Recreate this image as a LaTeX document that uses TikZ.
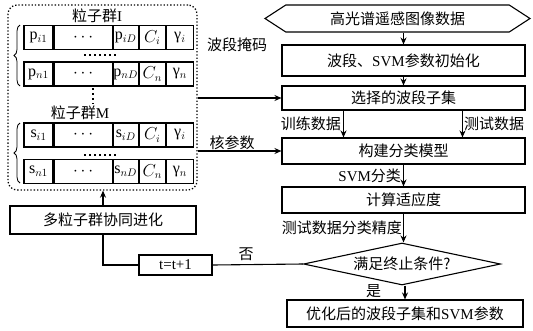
\documentclass[tikz,border=0pt]{standalone}
\usepackage{fontspec}
\usepackage{tikz}
\usetikzlibrary{shapes.geometric, shapes.symbols, arrows.meta, positioning, decorations.pathreplacing}
\setmainfont{Liberation Serif}
\newfontfamily\cjk{Noto Sans CJK SC}
\newcommand{\zh}[1]{{\cjk #1}}
\tikzset{
    process/.style  ={rectangle, minimum width=243pt, minimum height=26pt, inner sep=0pt, text centered, draw=black, line width=1.1pt},
    datasig/.style  ={signal, signal to=west and east, signal pointer angle=66, minimum width=265pt, minimum height=27pt, inner sep=0pt, draw=black, line width=1.1pt},
    decision/.style ={diamond, aspect=4.7, minimum width=197pt, minimum height=42pt, inner sep=0pt, text centered, draw=black, line width=1.1pt},
    cell/.style     ={rectangle, minimum height=24pt, inner sep=0pt, draw=black, line width=1.1pt, font=\fontsize{16}{18}\selectfont},
    group/.style    ={rectangle, rounded corners=9pt, draw=black, dotted, line width=1.3pt},
    flowarrow/.style={-{Stealth[length=7pt,width=6pt]}, line width=1.1pt},
    plainline/.style={line width=1.1pt},
    dotrow/.style   ={line width=1.8pt, dash pattern=on 1.6pt off 3.4pt},
}
\begin{document}
\begin{tikzpicture}[x=1pt, y=-1pt, font=\fontsize{15}{17}\selectfont]
                \useasboundingbox[fill=white] (0,0) rectangle (533,330);
                % right column
                \node[datasig] (d) at (397.5,18.5) {\zh{高光谱遥感图像数据}};
                \node[process, minimum height=31pt] (i) at (403.5,60.5) {\zh{波段、}SVM\zh{参数初始化}};
                \node[process, minimum height=24pt] (s) at (403.5,98) {\zh{选择的波段子集}};
                \node[process] (m) at (403.5,151) {\zh{构建分类模型}};
                \node[process] (f) at (403.5,200) {\zh{计算适应度}};
                \node[decision] (c) at (402,264) {\zh{满足终止条件?}};
                \node[process, minimum width=236pt, minimum height=27pt] (o) at (405,313.5) {\zh{优化后的波段子集和}SVM\zh{参数}};
                % left column
                \node[group, minimum width=189pt, minimum height=185pt] (g) at (102.5,97.5) {};
                \node[inner sep=0pt] (g1) at (97,15.5) {\zh{粒子群}I};
                \node[inner sep=0pt] (g2) at (80,113) {\zh{粒子群}M};
                \foreach \r/\y/\v/\k in {1/37.5/p/i, 2/74/p/n, 3/135/s/i, 4/171.5/s/n} {
                    \node[cell, minimum width=29pt] (c\r a) at (38.5,\y) {$\mathrm{\v}_{\k 1}$};
                    \node[cell, minimum width=58pt, right=0pt of c\r a] (c\r b) {$\cdots$};
                    \node[cell, minimum width=25pt, right=0pt of c\r b] (c\r c) {$\mathrm{\v}_{\k D}$};
                    \node[cell, minimum width=26pt, right=0pt of c\r c] (c\r d) {$C_{\k}$};
                    \node[cell, minimum width=27pt, right=0pt of c\r d] (c\r e) {γ$_{\k}$};
                }
                \draw[dotrow] (84,55) -- (117,55);
                \draw[dotrow] (84,155) -- (117,155);
                \draw[dotrow] (93,88) -- (93,104);
                \draw[decorate, decoration={brace, amplitude=6pt}, line width=0.8pt] (20,86) -- (20,25);
                \draw[decorate, decoration={brace, amplitude=6pt}, line width=0.8pt] (20,183) -- (20,123);
                \node[process, minimum width=186pt, minimum height=28pt] (e) at (103,220) {\zh{多粒子群协同进化}};
                \node[process, minimum width=73pt, minimum height=20pt] (t) at (175.5,265) {t=t+1};
                % labels
                \node (l1) at (237,45) {\zh{波段掩码}};
                \node (l2) at (232,143) {\zh{核参数}};
                % arrows
                \draw[flowarrow] (i.north |- d.south) -- (i.north);
                \draw[flowarrow] (i) -- (s);
                \draw[flowarrow] ([xshift=-60pt]s.south) -- node[left, inner sep=2pt]{\zh{训练数据}} ([xshift=-60pt]m.north);
                \draw[flowarrow] ([xshift=59pt]s.south) -- node[right, inner sep=1pt]{\zh{测试数据}} ([xshift=59pt]m.north);
                \draw[flowarrow] (m) -- node[left, inner sep=2pt]{SVM\zh{分类}} (f);
                \draw[flowarrow] (f.south) -- node[left, inner sep=1pt]{\zh{测试数据分类精度}} (f.south |- c.north);
                \draw[flowarrow] (c.south -| o.north) -- node[left, pos=0.4, xshift=-20pt]{\zh{是}} (o.north);
                \draw[plainline] (c.west) -- node[above, pos=0.63]{\zh{否}} (t.east);
                \draw[plainline] (t.west) -| (e.south);
                \draw[flowarrow] (e.north) -- (e.north |- g.south);
                \draw[flowarrow] (g.east |- s.west) -- (s.west);
                \draw[flowarrow] (g.east |- m.west) -- (m.west);
            \end{tikzpicture}
\end{document}
